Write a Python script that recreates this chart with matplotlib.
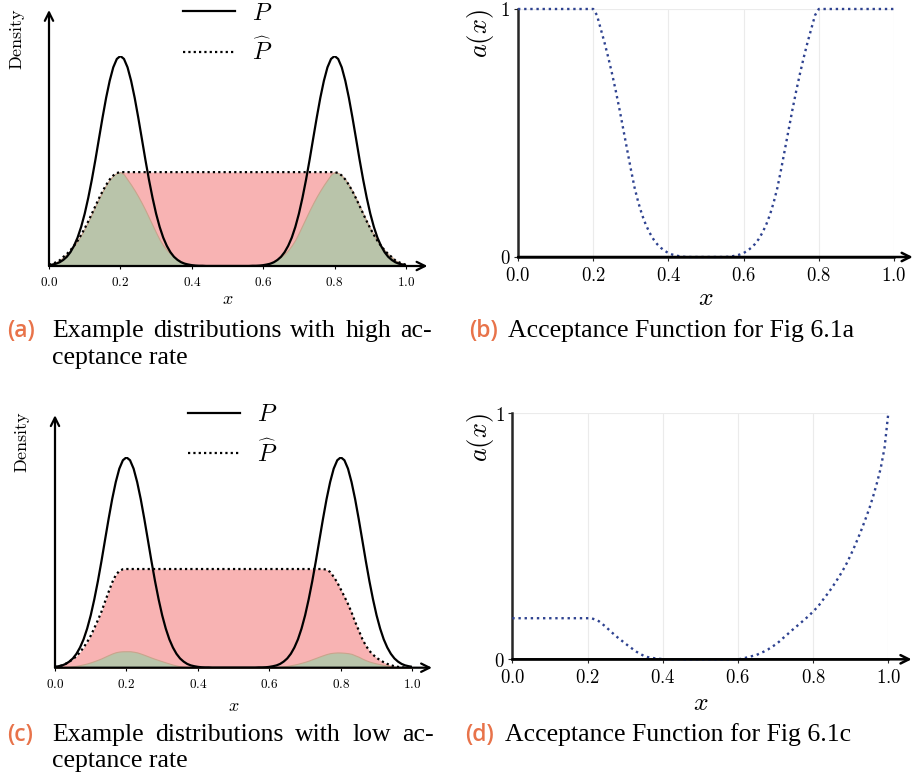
import numpy as np
import matplotlib
matplotlib.use("Agg")
import matplotlib.pyplot as plt
from matplotlib.ticker import FuncFormatter

plt.rcParams['mathtext.fontset'] = 'cm'

W, H = 913, 781

# sample positions of every curve (x from 0 to 1, step 0.01)
x_grid = np.linspace(0.0, 1.0, 101)

# target density P (same in both examples)
p_true = [.004, .007, .011, .018, .029, .044, .066, .096, .135, .186,
          .249, .325, .411, .506, .607, .707, .801, .882, .946, .986,
          1.00, .986, .946, .882, .801, .707, .607, .506, .411, .325,
          .249, .186, .135, .096, .066, .044, .029, .018, .011, .007,
          .004, .002, .001, .001, 0, 0, 0, 0, 0, 0,
          0, 0, 0, 0, 0, 0, 0, .001, .001, .002,
          .004, .007, .011, .018, .029, .044, .066, .096, .135, .186,
          .249, .325, .411, .506, .607, .707, .801, .882, .946, .986,
          1.00, .986, .946, .882, .801, .707, .607, .506, .411, .325,
          .249, .186, .135, .096, .066, .044, .029, .018, .011, .007,
          .004]

# proposal P-hat, high acceptance example
p_hat_high = ([.006, .011, .018, .027, .043, .057, .075, .096, .120, .148,
               .179, .213, .249, .286, .322, .356, .386, .412, .431, .443]
              + [.447] * 61
              + [.443, .431, .412, .386, .356, .322, .286, .249, .213,
                 .179, .148, .120, .096, .075, .057, .043, .027, .018, .011,
                 .006])

# acceptance function for the high acceptance example
accept_high = ([1.0] * 20
               + [1.0, .975, .920, .865, .805, .740, .670, .595, .515, .435,
                  .355, .280, .220, .170, .130, .098, .072, .052, .037, .025,
                  .016, .010, .006, .003, .001, 0, 0, 0, 0, 0,
                  0, 0, 0, 0, 0, 0, .001, .003, .006, .010,
                  .016, .025, .037, .052, .072, .098, .130, .170, .220, .280,
                  .355, .435, .515, .595, .670, .740, .805, .865, .920, .975]
               + [1.0] * 21)

# proposal P-hat, low acceptance example
p_hat_low = ([.002, .006, .011, .019, .029, .040, .055, .074, .096, .122,
              .152, .188, .226, .266, .314, .360, .405, .440, .460, .468]
             + [.469] * 56
             + [.466, .455, .432, .405,
                .372, .338, .303, .263, .218, .178, .137, .105, .080, .062,
                .047, .036, .026, .018, .012, .007, .004, .002, .001, 0,
                0])

# acceptance function for the low acceptance example
accept_low = ([.167] * 22
              + [.162, .155, .143, .130, .116, .102, .089, .077,
                 .065, .053, .042, .031, .022, .014, .009, .006, .004, .002,
                 .001, 0, 0, 0, 0, 0, 0, 0, 0, 0,
                 0, 0, 0, 0, 0, 0, 0, 0, 0, 0,
                 0, .002, .006, .010, .014, .018, .025, .032, .040, .050,
                 .060, .072, .086, .099, .113, .126, .139, .152, .165, .179,
                 .194, .210, .228, .250, .269, .291, .314, .338, .364, .392,
                 .424, .458, .494, .532, .573, .615, .664, .718, .778, .860,
                 1.0])

x_ticks = [0.0, 0.2, 0.4, 0.6, 0.8, 1.0]

cap_a = ["Example distributions with high ac-", "ceptance rate"]
cap_b = ["Acceptance Function for Fig 6.1a"]
cap_c = ["Example distributions with low ac-", "ceptance rate"]
cap_d = ["Acceptance Function for Fig 6.1c"]

RED = '#F8B3B3'
GREEN = '#B9C4AA'
EDGE = '#C9A48C'
NAVY = '#2E4290'
ORANGE = '#E8734A'
DOTS = (0, (1, 1.4))


def rect(left, top, right, bottom):
    return [left / W, 1 - bottom / H, (right - left) / W, (bottom - top) / H]


def arrow(ax, start, end, lw, color='black'):
    ax.annotate('', xy=end, xytext=start, annotation_clip=False,
                arrowprops=dict(arrowstyle='->,head_length=0.6,head_width=0.3',
                                lw=lw, color=color, shrinkA=0, shrinkB=0))


def density_panel(ax, p_hat, accept, x_tip, y_tip, ylab_pos, xlab_y, legend_at):
    accepted = np.asarray(p_hat) * np.asarray(accept)
    ax.fill_between(x_grid, 0, p_hat, color=RED, lw=0, zorder=1)
    ax.fill_between(x_grid, 0, accepted, facecolor=GREEN, edgecolor=EDGE,
                    lw=0.8, zorder=2)
    ax.plot(x_grid, p_hat, color='black', lw=1.6, ls=DOTS, zorder=3,
            label=r'$\widehat{P}$')
    ax.plot(x_grid, p_true, color='black', lw=1.6, zorder=4, label='$P$')
    ax.set_xlim(0, 1)
    ax.set_ylim(0, 1)
    for s in ax.spines.values():
        s.set_visible(False)
    arrow(ax, (0, 0), (x_tip, 0), 1.6)
    arrow(ax, (0, 0), (0, y_tip), 1.6)
    ax.set_xticks(x_ticks)
    ax.xaxis.set_major_formatter(FuncFormatter(lambda v, p: f'${v:.1f}$'))
    ax.set_yticks([])
    ax.tick_params(axis='x', length=2.5, width=0.8, labelsize=9.5, pad=5)
    ax.set_xlabel('$x$', fontsize=13, va='center')
    ax.xaxis.set_label_coords(0.5, xlab_y)
    ax.set_ylabel(r'$\mathrm{Density}$', fontsize=13, va='center')
    ax.yaxis.set_label_coords(*ylab_pos)
    handles, labels = ax.get_legend_handles_labels()
    ax.legend(handles[::-1], labels[::-1], loc='center left',
              bbox_to_anchor=(legend_at[0] / W, 1 - legend_at[1] / H),
              bbox_transform=ax.figure.transFigure, frameon=False,
              fontsize=17.5, handlelength=2.15, handletextpad=0.7,
              labelspacing=0.55, borderpad=0, borderaxespad=0)


def accept_panel(ax, accept, x_tip, ylab_x, xlab_y):
    ax.plot(x_grid, accept, color=NAVY, lw=1.7, ls=(0, (1, 1.6)),
            clip_on=False, zorder=3)
    ax.set_xlim(0, 1)
    ax.set_ylim(0, 1)
    ax.grid(True, color='#EBEBEB', lw=0.8, zorder=0)
    ax.set_axisbelow(True)
    for side in ['top', 'right']:
        ax.spines[side].set_visible(False)
    for side in ['left', 'bottom']:
        ax.spines[side].set_color('#262626')
        ax.spines[side].set_linewidth(1.8)
    arrow(ax, (0, 0), (x_tip, 0), 1.8)
    ax.set_xticks(x_ticks)
    ax.set_yticks([0, 1])
    ax.xaxis.set_major_formatter(FuncFormatter(lambda v, p: f'${v:.1f}$'))
    ax.yaxis.set_major_formatter(FuncFormatter(lambda v, p: f'${v:.0f}$'))
    ax.tick_params(length=3, width=0.8, color='#262626', labelsize=13.5)
    ax.tick_params(axis='x', pad=3.5)
    ax.tick_params(axis='y', pad=2.5)
    ax.set_xlabel('$x$', fontsize=18.5, va='center')
    ax.xaxis.set_label_coords(0.5, xlab_y)
    ax.set_ylabel('$a(x)$', fontsize=19, va='center')
    ax.yaxis.set_label_coords(ylab_x, 0.9)


def caption(fig, renderer, tag, lines, x_tag, x_text, y_first, right=None):
    fig.text(x_tag / W, 1 - y_first / H, f'({tag})', color=ORANGE,
             fontsize=16.5, family='Open Sans', weight='semibold', va='center')
    style = dict(fontsize=18.5, family='Liberation Serif', va='center')
    for i, line in enumerate(lines):
        y = 1 - (y_first + 26.5 * i) / H
        if i == 0 and right is not None and len(lines) > 1:
            # justified first line of a two line caption
            words = line.split()
            texts = [fig.text(0, y, w, **style) for w in words]
            widths = [t.get_window_extent(renderer).width for t in texts]
            gap = (right - x_text - sum(widths)) / (len(words) - 1)
            pos = x_text
            for t, w in zip(texts, widths):
                t.set_x(pos / W)
                pos += w + gap
        else:
            fig.text(x_text / W, y, line, **style)


fig = plt.figure(figsize=(W / 100, H / 100), dpi=100)
renderer = fig.canvas.get_renderer()

ax_a = fig.add_axes(rect(49, 56, 406, 266))
ax_b = fig.add_axes(rect(518, 9, 894, 257))
ax_c = fig.add_axes(rect(55, 457.3, 412.3, 667.7))
ax_d = fig.add_axes(rect(512.3, 413.3, 888.3, 659.3))

density_panel(ax_a, p_hat_high, accept_high, 1.06, 1.219,
              (-0.0896, 1.081), -0.155, (183, 33))
accept_panel(ax_b, accept_high, 1.05, -0.1, -0.165)
density_panel(ax_c, p_hat_low, accept_low, 1.055, 1.20,
              (-0.092, 1.073), -0.18, (188, 434.5))
accept_panel(ax_d, accept_low, 1.062, -0.085, -0.178)

caption(fig, renderer, 'a', cap_a, 7, 52, 331, right=432)
caption(fig, renderer, 'b', cap_b, 469, 508, 331)
caption(fig, renderer, 'c', cap_c, 7, 52, 735, right=434)
caption(fig, renderer, 'd', cap_d, 465, 505, 735)

fig.savefig('out.png', dpi=100)
